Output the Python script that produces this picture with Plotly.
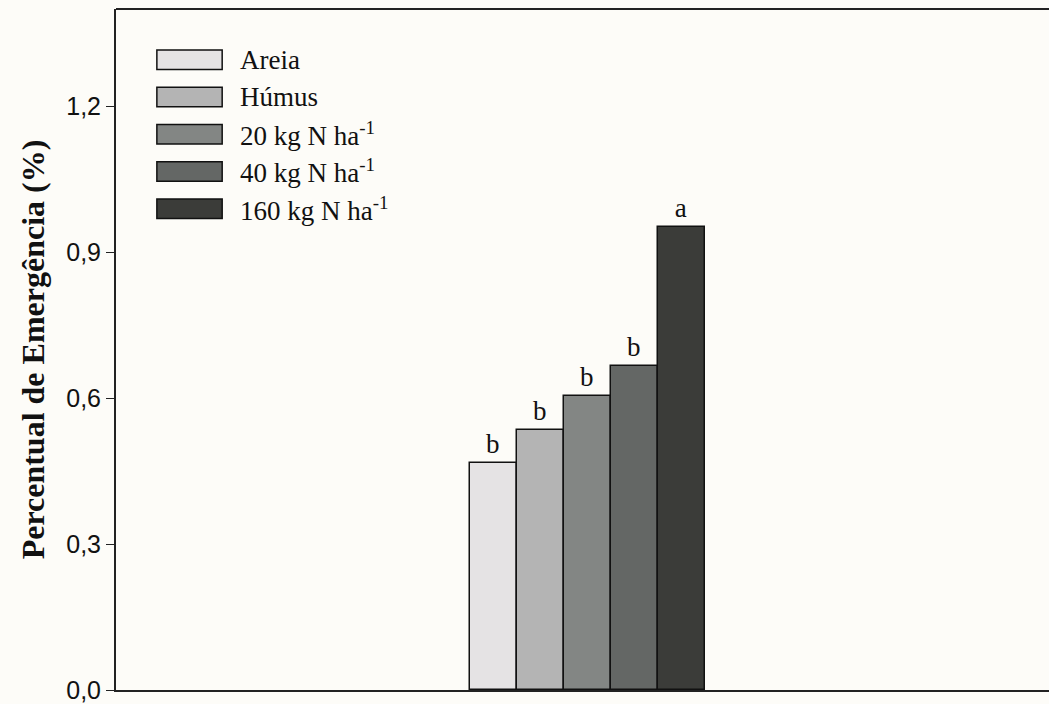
import plotly.graph_objects as go

# Treatments and mean emergence percentage
treatments = ["Areia", "Húmus", "20 kg N ha<sup>-1</sup>", "40 kg N ha<sup>-1</sup>", "160 kg N ha<sup>-1</sup>"]
emergence = [0.467, 0.535, 0.605, 0.667, 0.951]
letters = ["b", "b", "b", "b", "a"]
bar_colors = ["#e5e3e4", "#b4b4b4", "#838684", "#646765", "#3b3c39"]

y_ticks = [0.0, 0.3, 0.6, 0.9, 1.2]
y_tick_text = ["0,0", "0,3", "0,6", "0,9", "1,2"]

bg = "#fdfcf8"
serif = "Liberation Serif, Times New Roman, serif"
sans = "Liberation Sans, Arial, sans-serif"

fig = go.Figure()

positions = list(range(len(treatments)))
fig.add_trace(go.Bar(
    x=positions,
    y=emergence,
    width=1.0,
    marker=dict(color=bar_colors, line=dict(color="#111111", width=1.5)),
    text=letters,
    textposition="outside",
    textfont=dict(family=serif, size=27, color="#111111"),
    cliponaxis=False,
    showlegend=False,
    hoverinfo="skip",
))

# Legend drawn as wide swatches with serif labels
legend_x0, legend_x1 = 0.0438, 0.1138
legend_text_x = 0.131
legend_top = 0.9255
legend_step = 0.0547
swatch_h = 0.0287
for i, (name, col) in enumerate(zip(treatments, bar_colors)):
    yc = legend_top - i * legend_step
    fig.add_shape(type="rect", xref="paper", yref="paper",
                  x0=legend_x0, x1=legend_x1, y0=yc - swatch_h / 2, y1=yc + swatch_h / 2,
                  fillcolor=col, line=dict(color="#111111", width=1.5))
    fig.add_annotation(xref="paper", yref="paper", x=legend_text_x, y=yc,
                       text=name, showarrow=False, xanchor="left", yanchor="middle",
                       font=dict(family=serif, size=27, color="#111111"))

# Top frame line
fig.add_shape(type="line", xref="paper", yref="paper", x0=0, x1=1.02, y0=1, y1=1,
              line=dict(color="#222222", width=2))

fig.update_layout(
    width=1049, height=704,
    margin=dict(l=116, r=0, t=9, b=14),
    paper_bgcolor=bg, plot_bgcolor=bg,
    bargap=0,
    separators=",.",
    xaxis=dict(range=[-8.03, 11.82], showticklabels=False, ticks="",
               showgrid=False, zeroline=False, showline=True,
               linecolor="#222222", linewidth=2),
    yaxis=dict(range=[0, 1.40], tickvals=y_ticks, ticktext=y_tick_text,
               ticks="outside", ticklen=8, tickwidth=1.2, tickcolor="#222222",
               showgrid=False, zeroline=False, showline=True,
               linecolor="#222222", linewidth=2,
               tickfont=dict(family=sans, size=25, color="#111111"),
               title=dict(text="<b>Percentual de Emergência (%)</b>",
                          font=dict(family=serif, size=32, color="#111111"),
                          standoff=12)),
)

fig.write_html("out.html")
